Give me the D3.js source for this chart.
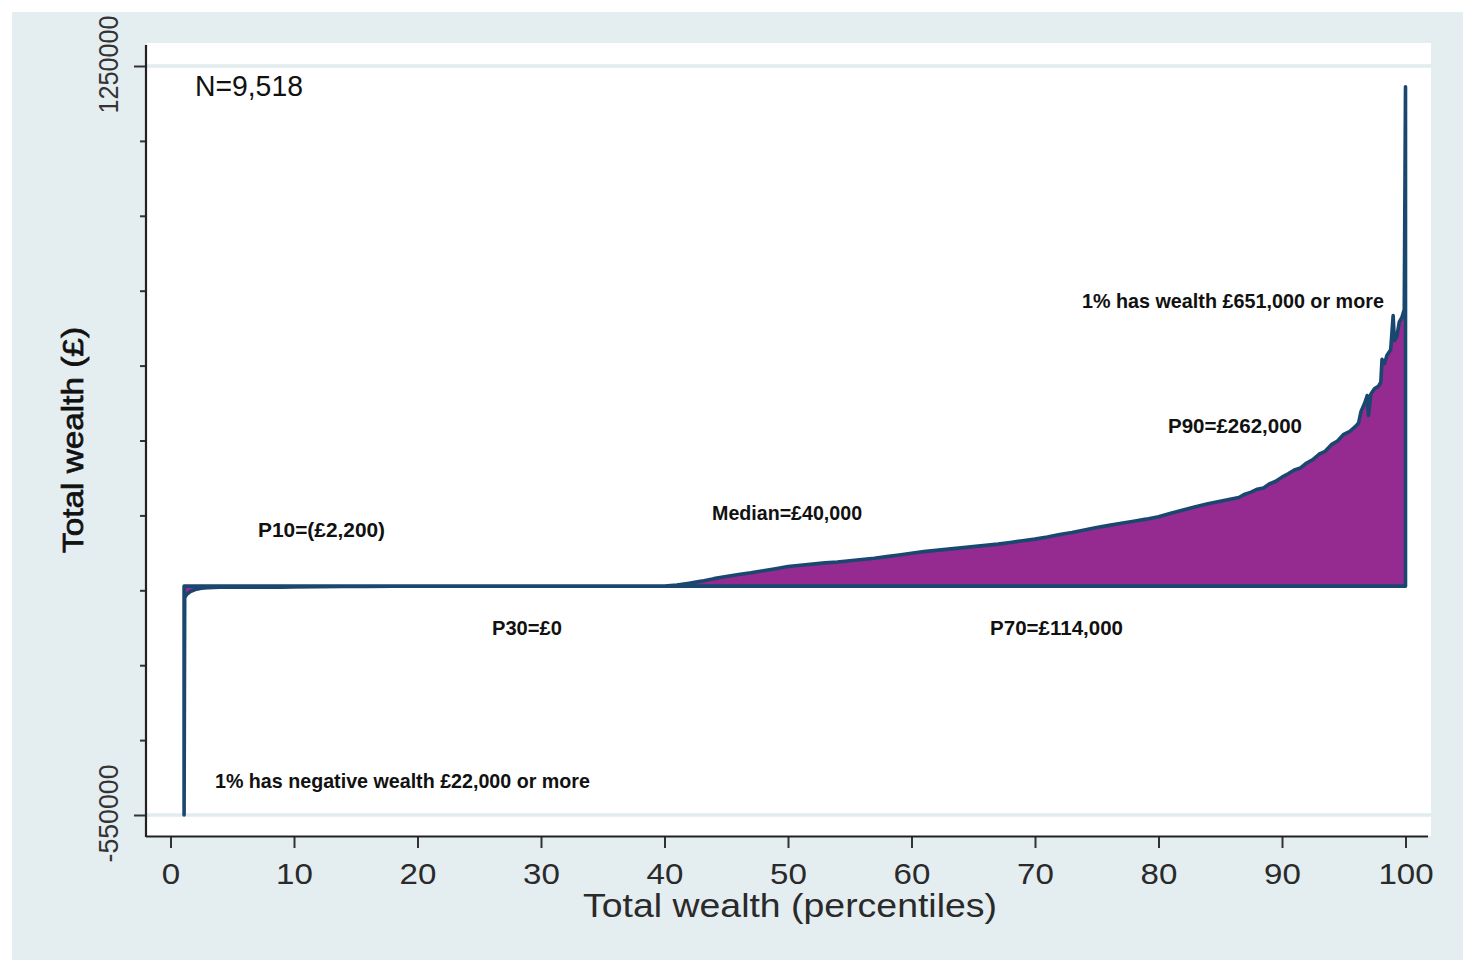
<!DOCTYPE html>
<html>
<head>
<meta charset="utf-8">
<script src="https://cdn.jsdelivr.net/npm/d3@7"></script>
<style>
  html, body { margin: 0; padding: 0; background: #ffffff; }
  svg { display: block; }
  text { font-family: "Liberation Sans", Arial, sans-serif; }
</style>
</head>
<body>
<svg id="chart" width="1463" height="960"></svg>
<script>
// ---------------- data ----------------
const percentiles = [
  1.1, 1.15, 1.3, 1.6, 2.0, 2.5, 3.0, 3.5, 4, 5, 6, 7, 8, 9, 10,
  12, 14, 16, 18, 20, 22, 39,
  40, 41, 42, 43, 44, 45, 46, 47, 48, 49, 50,
  51, 52, 53, 54, 55, 56, 57, 58, 59, 60,
  61, 62, 63, 64, 65, 66, 67, 68, 69, 70,
  71, 72, 73, 74, 75, 76, 77, 78, 79, 80,
  81, 82, 83, 84, 85, 86, 86.5, 87, 87.5, 88, 88.5, 89, 89.5, 90,
  90.5, 91, 91.5, 92, 92.5, 93, 93.5, 94, 94.5, 95, 95.5, 96,
  96.2, 96.4, 96.7, 96.9, 97.0, 97.2, 97.5, 97.8, 98.0, 98.1, 98.3, 98.5, 98.8,
  99.0, 99.1, 99.3, 99.5, 99.7, 99.9, 100
];
const wealth = [
  -550000, -28000, -20000, -13000, -8000, -5000, -3600, -3000, -2800, -2600, -2500, -2400, -2350, -2300, -2200,
  -1500, -900, -500, -200, -60, 0, 0,
  300, 2500, 7000, 12000, 18000, 23000, 28000, 32000, 37000, 42000, 47000,
  50000, 53000, 56000, 58000, 61000, 64000, 67000, 71000, 75000, 79000,
  83000, 86000, 89000, 92000, 95000, 98000, 101000, 105000, 109000, 113000,
  118000, 124000, 129000, 135000, 141000, 146000, 151000, 156000, 161000, 167000,
  175000, 183000, 191000, 198000, 204000, 210000, 213000, 221000, 226000, 233000, 236000, 246000, 252000, 262000,
  270000, 279000, 284000, 296000, 304000, 317000, 324000, 340000, 349000, 365000, 372000, 385000,
  392000, 420000, 440000, 458000, 410000, 462000, 475000, 480000, 490000, 545000, 535000, 555000, 568000,
  650000, 590000, 600000, 635000, 645000, 665000, 1200000
];

const xTickValues = [0, 10, 20, 30, 40, 50, 60, 70, 80, 90, 100];
const yLabelledTicks = [-550000, 1250000];
const yTickStep = 180000;

const xTitle = "Total wealth (percentiles)";
const yTitle = "Total wealth (£)";

const notes = [
  "N=9,518",
  "P10=(£2,200)",
  "P30=£0",
  "Median=£40,000",
  "P70=£114,000",
  "P90=£262,000",
  "1% has wealth £651,000 or more",
  "1% has negative wealth £22,000 or more"
];

// ---------------- layout ----------------
const svg = d3.select("#chart");
const W = 1463, H = 960;

const x = d3.scaleLinear().domain([0, 100]).range([170.5, 1405.5]);
const y = d3.scaleLinear().domain([-550000, 1250000]).range([815, 66]);

const colBg = "#e4edf0";
const colLine = "#1a476f";
const colFill = "#952b90";
const colText = "#111111";

// outer graph region
svg.append("rect").attr("x", 0).attr("y", 0).attr("width", W).attr("height", H).attr("fill", "#ffffff");
svg.append("rect").attr("x", 12).attr("y", 12).attr("width", W - 12).attr("height", H - 12).attr("fill", colBg);
// plot region
svg.append("rect").attr("x", 147).attr("y", 43).attr("width", 1431 - 147).attr("height", 836 - 43).attr("fill", "#ffffff");

// gridlines at labelled ticks
svg.append("g").selectAll("line").data(yLabelledTicks).join("line")
  .attr("x1", 147).attr("x2", 1431)
  .attr("y1", d => y(d)).attr("y2", d => y(d))
  .attr("stroke", "#e2ebee").attr("stroke-width", 3.5);

// area
const area = d3.area()
  .x((d, i) => x(percentiles[i]))
  .y0(() => y(0))
  .y1(d => y(d));

svg.append("path")
  .datum(wealth)
  .attr("d", area)
  .attr("fill", colFill)
  .attr("stroke", colLine)
  .attr("stroke-width", 3.6)
  .attr("stroke-linejoin", "round");

// x axis
const xAxis = d3.axisBottom(x).tickValues(xTickValues).tickSize(12).tickPadding(0).tickFormat(d3.format("d"));
const gx = svg.append("g").attr("transform", "translate(0,836)").call(xAxis);
gx.select(".domain").remove();
gx.selectAll(".tick line").attr("stroke", "#333").attr("stroke-width", 2);
gx.selectAll(".tick text")
  .attr("y", 48).attr("dy", 0)
  .attr("fill", "#2a2a2a")
  .style("font-size", "30px")
  .style("font-family", "'Liberation Sans', Arial, sans-serif")
  .attr("textLength", function () { return this.textContent.length * 18.4; })
  .attr("lengthAdjust", "spacingAndGlyphs");
svg.append("line").attr("x1", 146).attr("x2", 1428).attr("y1", 836.5).attr("y2", 836.5)
  .attr("stroke", "#222").attr("stroke-width", 2.2);

// y axis
const yTickValues = d3.range(yLabelledTicks[0], yLabelledTicks[1] + 1, yTickStep);
const yAxis = d3.axisLeft(y).tickValues(yTickValues).tickSize(6)
  .tickFormat(d => yLabelledTicks.includes(d) ? String(d) : "");
const gy = svg.append("g").attr("transform", "translate(146,0)").call(yAxis);
gy.select(".domain").remove();
gy.selectAll(".tick line").attr("stroke", "#333").attr("stroke-width", 2)
  .attr("x2", d => yLabelledTicks.includes(d) ? -12 : -6);
gy.selectAll(".tick text")
  .attr("transform", "rotate(-90)")
  .attr("text-anchor", "middle")
  .attr("x", 2).attr("y", -28).attr("dy", 0)
  .attr("fill", "#333")
  .style("font-size", "28px")
  .style("font-family", "'Liberation Sans', Arial, sans-serif")
  .attr("textLength", 98)
  .attr("lengthAdjust", "spacingAndGlyphs");
svg.append("line").attr("x1", 146).attr("x2", 146).attr("y1", 45).attr("y2", 837)
  .attr("stroke", "#222").attr("stroke-width", 2.2);

// axis titles
svg.append("text")
  .attr("x", 790).attr("y", 917)
  .attr("text-anchor", "middle")
  .attr("fill", "#2a2a2a")
  .style("font-size", "33px")
  .attr("textLength", 414).attr("lengthAdjust", "spacingAndGlyphs")
  .text(xTitle);

svg.append("text")
  .attr("transform", "translate(83,440) rotate(-90)")
  .attr("text-anchor", "middle")
  .attr("fill", colText)
  .attr("stroke", colText).attr("stroke-width", 0.7)
  .style("font-size", "30px")
  .attr("textLength", 226).attr("lengthAdjust", "spacingAndGlyphs")
  .text(yTitle);

// annotations (anchored in data coordinates)
const notePlacement = [
  { px: 1.98, val: 1178000, size: 30, len: 108, weight: "normal" },
  { px: 7.09, val: 118000, size: 21, len: 127, weight: "bold" },
  { px: 26.03, val: -117300, size: 21, len: 70, weight: "bold" },
  { px: 43.85, val: 159100, size: 21, len: 150, weight: "bold" },
  { px: 66.36, val: -117300, size: 21, len: 133, weight: "bold" },
  { px: 80.77, val: 368200, size: 21, len: 134, weight: "bold" },
  { px: 73.8, val: 668600, size: 21, len: 302, weight: "bold" },
  { px: 3.6, val: -485000, size: 21, len: 375, weight: "bold" }
];
svg.append("g").selectAll("text").data(notes).join("text")
  .attr("x", (d, i) => x(notePlacement[i].px))
  .attr("y", (d, i) => y(notePlacement[i].val))
  .attr("fill", colText)
  .style("font-size", (d, i) => notePlacement[i].size + "px")
  .style("font-weight", (d, i) => notePlacement[i].weight)
  .attr("textLength", (d, i) => notePlacement[i].len)
  .attr("lengthAdjust", "spacingAndGlyphs")
  .text(d => d);
</script>
</body>
</html>
